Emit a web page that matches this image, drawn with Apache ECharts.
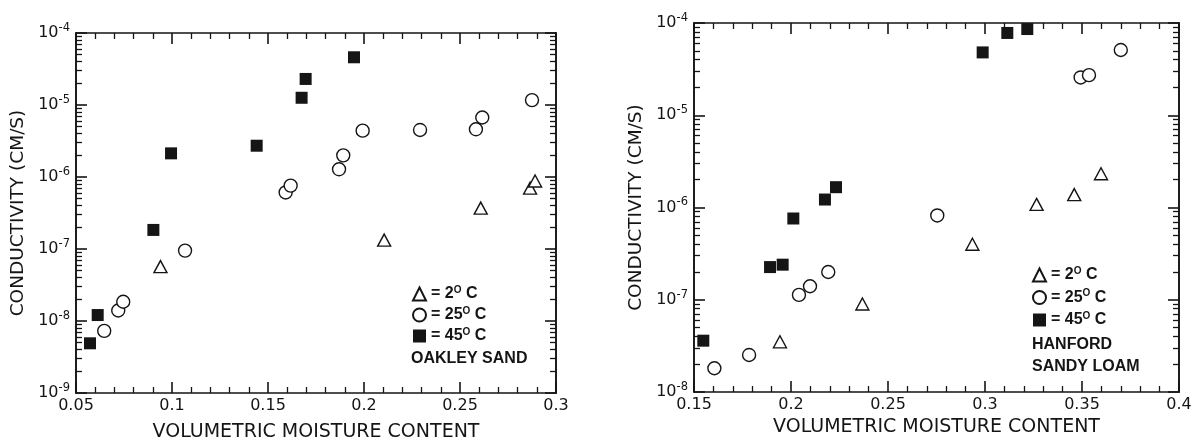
<!DOCTYPE html>
<html>
<head>
<meta charset="utf-8">
<script src="https://cdn.jsdelivr.net/npm/echarts@6/dist/echarts.min.js"></script>
<style>
  html, body { margin: 0; padding: 0; background: #fff; }
  #wrap { position: relative; width: 1198px; height: 439px; background: #fff; }
  #oakley { position: absolute; left: 0; top: 0; width: 599px; height: 439px; }
  #hanford { position: absolute; left: 599px; top: 0; width: 599px; height: 439px; }
</style>
</head>
<body>
<div id="wrap">
  <div id="oakley"></div>
  <div id="hanford"></div>
</div>
<script>
// Oakley sand: volumetric moisture content vs. hydraulic conductivity (cm/s)
const oakley2C_x  = [0.094, 0.2105, 0.2608, 0.2865, 0.2891];
const oakley2C_y  = [5.7e-8, 1.33e-7, 3.7e-7, 7.0e-7, 8.8e-7];
const oakley25C_x = [0.0647, 0.072, 0.0746, 0.1068, 0.1592, 0.1618, 0.187, 0.1892, 0.1993, 0.2292, 0.2583, 0.2616, 0.2875];
const oakley25C_y = [7.3e-9, 1.4e-8, 1.85e-8, 9.5e-8, 6.1e-7, 7.6e-7, 1.28e-6, 2.0e-6, 4.4e-6, 4.5e-6, 4.6e-6, 6.7e-6, 1.17e-5];
const oakley45C_x = [0.0573, 0.0613, 0.0903, 0.0995, 0.1441, 0.1675, 0.1696, 0.1948];
const oakley45C_y = [4.9e-9, 1.21e-8, 1.84e-7, 2.13e-6, 2.72e-6, 1.26e-5, 2.3e-5, 4.6e-5];

// Hanford sandy loam
const hanford2C_x  = [0.1943, 0.2368, 0.2935, 0.3266, 0.346, 0.3598];
const hanford2C_y  = [3.5e-8, 9.0e-8, 4.0e-7, 1.08e-6, 1.38e-6, 2.32e-6];
const hanford25C_x = [0.1605, 0.1784, 0.2041, 0.2098, 0.2192, 0.2754, 0.3493, 0.3536, 0.37];
const hanford25C_y = [1.81e-8, 2.52e-8, 1.13e-7, 1.4e-7, 2.0e-7, 8.2e-7, 2.57e-5, 2.72e-5, 5.1e-5];
const hanford45C_x = [0.1548, 0.1892, 0.1957, 0.2012, 0.2175, 0.2232, 0.2988, 0.3115, 0.3218];
const hanford45C_y = [3.6e-8, 2.26e-7, 2.4e-7, 7.6e-7, 1.22e-6, 1.66e-6, 4.8e-5, 7.8e-5, 8.6e-5];

// Axis ranges and tick labels
const oakleyDecades  = [1e-9, 1e-8, 1e-7, 1e-6, 1e-5, 1e-4];
const hanfordDecades = [1e-8, 1e-7, 1e-6, 1e-5, 1e-4];
const oakleyXRange   = [0.05, 0.3];
const hanfordXRange  = [0.15, 0.4];
const xStep = 0.05;

const seriesNames = ['2° C', '25° C', '45° C'];
const xTitle = 'VOLUMETRIC MOISTURE CONTENT';
const yTitle = 'CONDUCTIVITY (CM/S)';
const oakleyCaption = 'OAKLEY SAND';
const hanfordCaption = 'HANFORD\nSANDY LOAM';

const INK = '#151515';
const AXIS_FONT = 'DejaVu Sans, sans-serif';
const LEGEND_FONT = 'Liberation Sans, Arial, sans-serif';

function zip(xs, ys) { return xs.map((x, i) => [x, ys[i]]); }

// log-axis minor ticks at 2..9 within every decade
function minorTicks(decades) {
  const out = [];
  for (let i = 0; i < decades.length - 1; i++) {
    for (let k = 2; k <= 9; k++) out.push(+(decades[i] * k).toPrecision(3));
  }
  return out;
}

function powerLabel(v) {
  return '{b|10}{e|' + Math.round(Math.log10(v)) + '}';
}

function yAxes(decades, nameGap) {
  const min = decades[0], max = decades[decades.length - 1];
  const minors = minorTicks(decades);
  const base = () => ({
    type: 'log', logBase: 10, min: min, max: max,
    splitLine: { show: false },
    axisLine: { show: true, lineStyle: { color: INK, width: 1.6 } }
  });
  return [
    Object.assign(base(), {
      position: 'left',
      name: yTitle, nameLocation: 'middle', nameGap: nameGap, nameRotate: 90,
      nameTextStyle: { fontFamily: AXIS_FONT, fontSize: 18.5, color: INK },
      axisTick: { show: true, inside: true, length: 11, lineStyle: { color: INK, width: 1.6 }, customValues: decades },
      axisLabel: {
        show: true, margin: 6, customValues: decades, formatter: powerLabel,
        rich: {
          b: { fontFamily: AXIS_FONT, fontSize: 16, color: INK, lineHeight: 22 },
          e: { fontFamily: AXIS_FONT, fontSize: 11.5, color: INK, lineHeight: 10, verticalAlign: 'top' }
        }
      }
    }),
    Object.assign(base(), {
      position: 'right',
      axisTick: { show: true, inside: true, length: 11, lineStyle: { color: INK, width: 1.6 }, customValues: decades },
      axisLabel: { show: false }
    }),
    Object.assign(base(), {
      position: 'left', offset: 0,
      axisTick: { show: true, inside: true, length: 6, lineStyle: { color: INK, width: 1.3 }, customValues: minors },
      axisLabel: { show: false }
    }),
    Object.assign(base(), {
      position: 'right', offset: 0,
      axisTick: { show: true, inside: true, length: 6, lineStyle: { color: INK, width: 1.3 }, customValues: minors },
      axisLabel: { show: false }
    })
  ];
}

function xAxes(range, nameGap) {
  const base = () => ({
    type: 'value', min: range[0], max: range[1], interval: xStep,
    splitLine: { show: false },
    axisLine: { show: true, lineStyle: { color: INK, width: 1.6 } },
    axisTick: { show: true, inside: true, length: 11, lineStyle: { color: INK, width: 1.6 } },
    minorTick: { show: true, splitNumber: 5, length: 6, lineStyle: { color: INK, width: 1.3 } }
  });
  return [
    Object.assign(base(), {
      name: xTitle, nameLocation: 'middle', nameGap: nameGap,
      nameTextStyle: { fontFamily: AXIS_FONT, fontSize: 19, color: INK },
      axisLabel: { show: true, margin: 5, fontFamily: AXIS_FONT, fontSize: 16, color: INK }
    }),
    Object.assign(base(), { position: 'top', axisLabel: { show: false } })
  ];
}

const markerStyles = [
  { symbol: 'triangle', symbolSize: [13, 12], itemStyle: { color: '#fff', borderColor: INK, borderWidth: 1.4, opacity: 1 } },
  { symbol: 'circle', symbolSize: 13, itemStyle: { color: '#fff', borderColor: INK, borderWidth: 1.4, opacity: 1 } },
  { symbol: 'rect', symbolSize: 12, itemStyle: { color: INK, borderColor: INK, borderWidth: 0, opacity: 1 } }
];

function scatterSeries(sets) {
  return sets.map((d, i) => Object.assign({
    type: 'scatter', name: seriesNames[i], data: d
  }, markerStyles[i]));
}

function legend(left, top, gap) {
  return {
    orient: 'vertical', left: left, top: top, itemWidth: 13, itemHeight: 13, itemGap: gap,
    selectedMode: false, data: seriesNames,
    formatter: function (name) {
      return '= ' + name.replace('° C', '') + '{o|O} C';
    },
    textStyle: {
      fontFamily: LEGEND_FONT, fontWeight: 'bold', fontSize: 16, color: INK, lineHeight: 18,
      rich: { o: { fontFamily: LEGEND_FONT, fontWeight: 'bold', fontSize: 10, color: INK, lineHeight: 10, verticalAlign: 'top' } }
    }
  };
}

function panel(el, cfg) {
  const chart = echarts.init(el, null, { renderer: 'canvas' });
  chart.setOption({
    backgroundColor: '#fff',
    animation: false,
    grid: { left: cfg.grid[0], top: cfg.grid[1], width: cfg.grid[2], height: cfg.grid[3], outerBoundsMode: 'none' },
    xAxis: xAxes(cfg.xRange, cfg.xNameGap),
    yAxis: yAxes(cfg.decades, cfg.yNameGap),
    legend: legend(cfg.legend[0], cfg.legend[1], cfg.legend[2]),
    title: {
      text: cfg.caption, left: cfg.caption_at[0], top: cfg.caption_at[1],
      textStyle: { fontFamily: LEGEND_FONT, fontWeight: 'bold', fontSize: 16, color: INK, lineHeight: 22 }
    },
    series: scatterSeries(cfg.sets)
  });
  return chart;
}

panel(document.getElementById('oakley'), {
  grid: [76, 33, 480, 360], xRange: oakleyXRange, decades: oakleyDecades,
  xNameGap: 30, yNameGap: 44, legend: [407, 280, 3], caption: oakleyCaption, caption_at: [406, 343],
  sets: [zip(oakley2C_x, oakley2C_y), zip(oakley25C_x, oakley25C_y), zip(oakley45C_x, oakley45C_y)]
});

panel(document.getElementById('hanford'), {
  grid: [95, 23, 485, 369], xRange: hanfordXRange, decades: hanfordDecades,
  xNameGap: 11, yNameGap: 43, legend: [428, 261, 4.5], caption: hanfordCaption, caption_at: [428, 329],
  sets: [zip(hanford2C_x, hanford2C_y), zip(hanford25C_x, hanford25C_y), zip(hanford45C_x, hanford45C_y)]
});
</script>
</body>
</html>
